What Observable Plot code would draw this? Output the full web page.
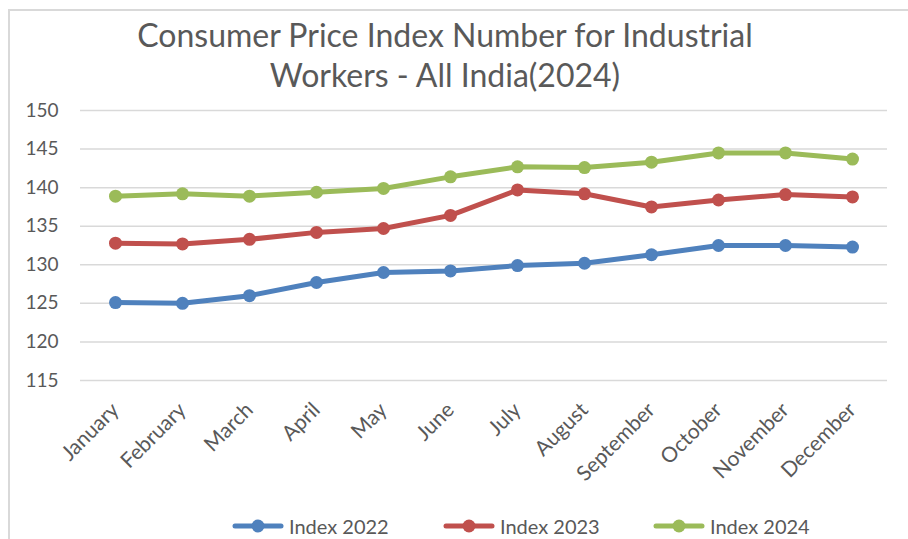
<!DOCTYPE html>
<html>
<head>
<meta charset="utf-8">
<script src="https://cdn.jsdelivr.net/npm/d3@7"></script>
<script src="https://cdn.jsdelivr.net/npm/@observablehq/plot@0.6"></script>
<style>
  html, body { margin: 0; padding: 0; background: #fff; }
  #wrap { position: relative; width: 908px; height: 539px; overflow: hidden; font-family: Lato, "Open Sans", sans-serif; color: #595959; }
  #border { position: absolute; left: 8px; top: 9px; right: -10px; bottom: -10px; border-top: 2px solid #d9d9d9; border-left: 2px solid #d9d9d9; }
  #title { position: absolute; left: 0; width: 890px; top: 15px; text-align: center; font-size: 32px; line-height: 40px; }
  #chart { position: absolute; left: 0; top: 0; }
  .leg { position: absolute; top: 514px; height: 24px; display: flex; align-items: center; font-size: 20px; }
  .leg svg { margin-right: 5px; }
</style>
</head>
<body>
<div id="wrap">
  <div id="border"></div>
  <div id="chart"></div>
  <div id="title">Consumer Price Index Number for Industrial<br>Workers - All India(2024)</div>
  <div id="legend"></div>
</div>
<script>
const months = ["January","February","March","April","May","June","July","August","September","October","November","December"];
const seriesNames = ["Index 2022","Index 2023","Index 2024"];
const index2022 = [125.1,125.0,126.0,127.7,129.0,129.2,129.9,130.2,131.3,132.5,132.5,132.3];
const index2023 = [132.8,132.7,133.3,134.2,134.7,136.4,139.7,139.2,137.5,138.4,139.1,138.8];
const index2024 = [138.9,139.2,138.9,139.4,139.9,141.4,142.7,142.6,143.3,144.5,144.5,143.7];
const yTicks = [115,120,125,130,135,140,145,150];
const colors = ["#4F81BD","#C0504D","#9BBB59"];

const seriesValues = [index2022, index2023, index2024];
const data = [];
seriesNames.forEach((s, i) => months.forEach((m, j) => data.push({series: s, month: m, value: seriesValues[i][j]})));

const chart = Plot.plot({
  width: 908,
  height: 500,
  marginLeft: 80,
  marginRight: 21,
  marginTop: 110,
  marginBottom: 120,
  style: {fontFamily: "Lato, 'Open Sans', sans-serif", background: "transparent", color: "#595959"},
  x: {type: "point", domain: months, padding: 0.5},
  y: {domain: [115, 150]},
  color: {domain: seriesNames, range: colors},
  marks: [
    Plot.gridY(yTicks, {stroke: "#d9d9d9", strokeOpacity: 1, strokeWidth: 1.5}),
    Plot.axisY(yTicks, {tickSize: 0, tickPadding: 22, fontSize: 19, fill: "#595959", label: null}),
    Plot.axisX({tickSize: 0, tickPadding: 26, tickRotate: -45, textAnchor: "end", fontSize: 21, fill: "#595959", label: null}),
    Plot.line(data, {x: "month", y: "value", z: "series", stroke: "series", strokeWidth: 5, strokeLinejoin: "round", strokeLinecap: "round"}),
    Plot.dot(data, {x: "month", y: "value", fill: "series", r: 6.5})
  ]
});
document.getElementById("chart").appendChild(chart);

const legendLefts = [232, 443, 653];
const legend = document.getElementById("legend");
seriesNames.forEach((s, i) => {
  const item = document.createElement("div");
  item.className = "leg";
  item.style.left = legendLefts[i] + "px";
  item.innerHTML = `<svg width="52" height="16"><line x1="3" x2="49" y1="8" y2="8" stroke="${colors[i]}" stroke-width="5" stroke-linecap="round"/><circle cx="26" cy="8" r="6.5" fill="${colors[i]}"/></svg><span>${s}</span>`;
  legend.appendChild(item);
});
</script>
</body>
</html>
